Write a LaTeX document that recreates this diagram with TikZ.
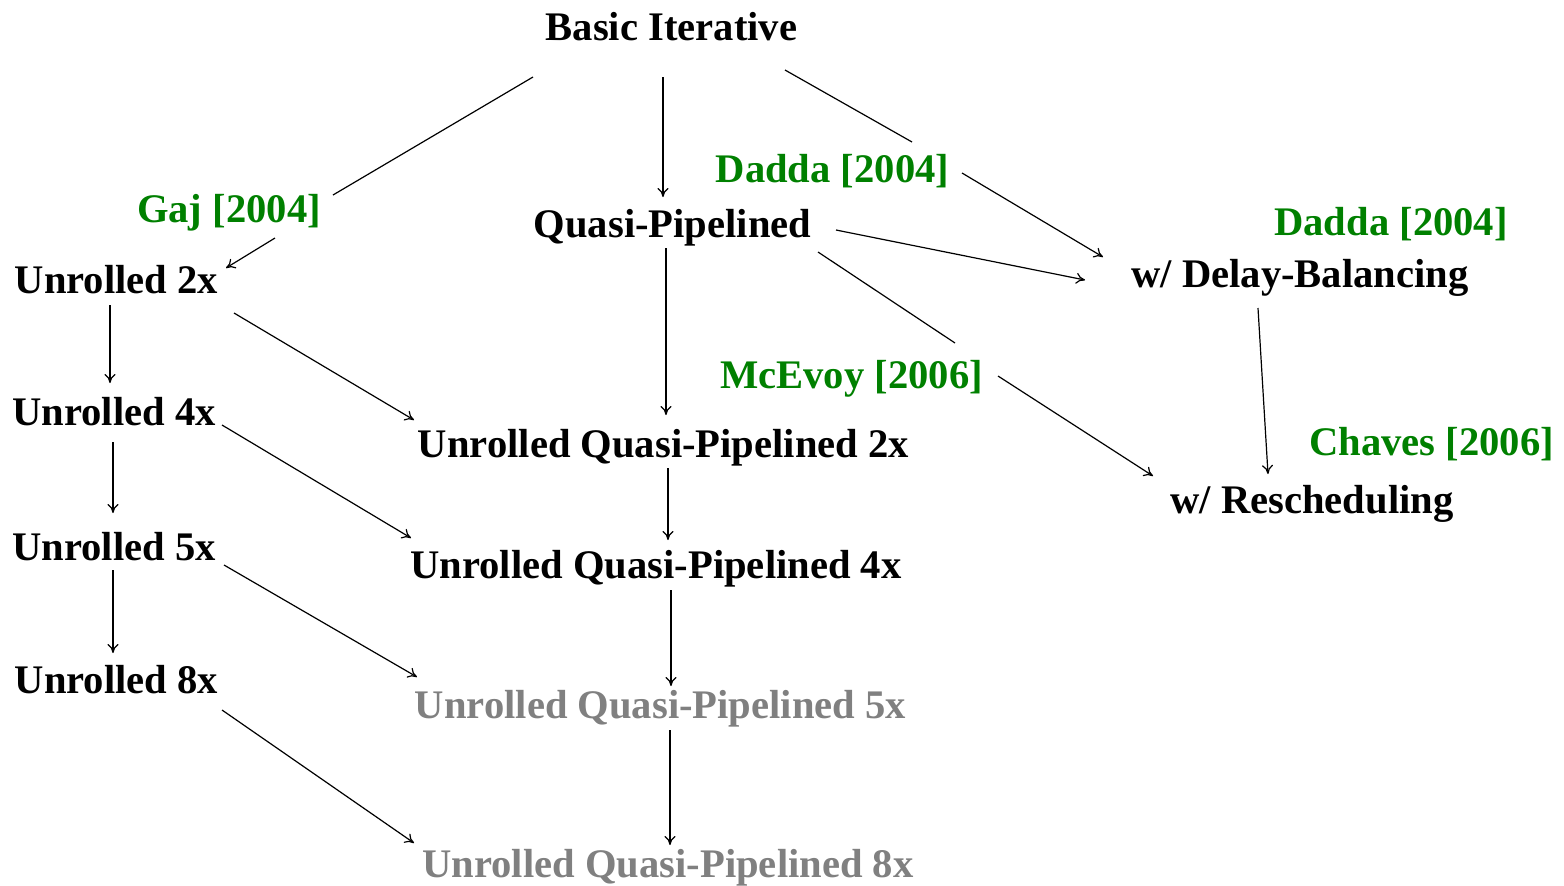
\documentclass[tikz,border=0pt]{standalone}
\usepackage{fontspec}
\setmainfont{Liberation Serif}
\usetikzlibrary{arrows.meta}
\definecolor{refgreen}{RGB}{0,128,0}
\definecolor{refgray}{RGB}{128,128,128}
\begin{document}
\begin{tikzpicture}[x=0.5pt,y=-0.5pt,
  lbl/.style={inner sep=0pt,anchor=base,font=\fontsize{20.3}{24}\selectfont\bfseries},
  cite/.style={lbl,text=refgreen},
  faded/.style={lbl,text=refgray},
  conn/.style={line width=0.6pt,draw=black},
  arr/.style={conn,-{To[length=4.5pt,width=5.5pt]}}]
\useasboundingbox[fill=white] (0,0) rectangle (1564,885);
\node[lbl] (basic) at (671.5,40) {Basic Iterative};
\node[lbl] (quasi) at (672.5,237) {Quasi-Pipelined};
\node[cite] (gaj) at (229,222) {Gaj [2004]};
\node[lbl] (u2) at (116.5,293) {Unrolled 2x};
\node[cite] (dadda1) at (832.5,182) {Dadda [2004]};
\node[cite] (dadda2) at (1391,235) {Dadda [2004]};
\node[lbl] (delay) at (1300,287) {w/ Delay-Balancing};
\node[lbl] (u4) at (114,425) {Unrolled 4x};
\node[lbl] (uqp2) at (663.5,457) {Unrolled Quasi-Pipelined 2x};
\node[lbl] (u5) at (114,560) {Unrolled 5x};
\node[lbl] (uqp4) at (656,578) {Unrolled Quasi-Pipelined 4x};
\node[cite] (mcevoy) at (851.5,388) {McEvoy [2006]};
\node[cite] (chaves) at (1431.5,455) {Chaves [2006]};
\node[lbl] (resched) at (1312,513) {w/ Rescheduling};
\node[lbl] (u8) at (116.5,693) {Unrolled 8x};
\node[faded] (uqp5) at (660.5,718) {Unrolled Quasi-Pipelined 5x};
\node[faded] (uqp8) at (668,877) {Unrolled Quasi-Pipelined 8x};

\draw[conn] ([shift={(-138.5,37)}]basic.base) -- ([shift={(104,-27)}]gaj.base);
\draw[arr] ([shift={(46,16)}]gaj.base) -- ([shift={(109.5,-25)}]u2.base);
\draw[arr] ([shift={(-8.5,37)}]basic.base) -- ([shift={(-9.5,-40)}]quasi.base);
\draw[conn] ([shift={(113.5,30)}]basic.base) -- ([shift={(79.5,-40)}]dadda1.base);
\draw[arr] ([shift={(129.5,-9)}]dadda1.base) -- ([shift={(-197,-30)}]delay.base);
\draw[arr] ([shift={(163.5,-7)}]quasi.base) -- ([shift={(-215,-7)}]delay.base);
\draw[conn] ([shift={(145.5,15)}]quasi.base) -- ([shift={(103.5,-45)}]mcevoy.base);
\draw[arr] ([shift={(146.5,-12)}]mcevoy.base) -- ([shift={(-159,-37)}]resched.base);
\draw[arr] ([shift={(-6.5,11)}]quasi.base) -- ([shift={(2.5,-42)}]uqp2.base);
\draw[arr] ([shift={(-42,21)}]delay.base) -- ([shift={(-44,-39)}]resched.base);
\draw[arr] ([shift={(-6.5,12)}]u2.base) -- ([shift={(-4,-42)}]u4.base);
\draw[arr] ([shift={(-1,17)}]u4.base) -- ([shift={(-1,-47)}]u5.base);
\draw[arr] ([shift={(-1,10)}]u5.base) -- ([shift={(-3.5,-40)}]u8.base);
\draw[arr] ([shift={(117.5,20)}]u2.base) -- ([shift={(-249.5,-37)}]uqp2.base);
\draw[arr] ([shift={(108,0)}]u4.base) -- ([shift={(-245,-40)}]uqp4.base);
\draw[arr] ([shift={(110,5)}]u5.base) -- ([shift={(-243.5,-41)}]uqp5.base);
\draw[arr] ([shift={(105.5,17)}]u8.base) -- ([shift={(-254,-34)}]uqp8.base);
\draw[arr] ([shift={(4.5,11)}]uqp2.base) -- ([shift={(12,-38)}]uqp4.base);
\draw[arr] ([shift={(15,12)}]uqp4.base) -- ([shift={(10.5,-32)}]uqp5.base);
\draw[arr] ([shift={(9.5,12)}]uqp5.base) -- ([shift={(2,-32)}]uqp8.base);
\end{tikzpicture}
\end{document}
